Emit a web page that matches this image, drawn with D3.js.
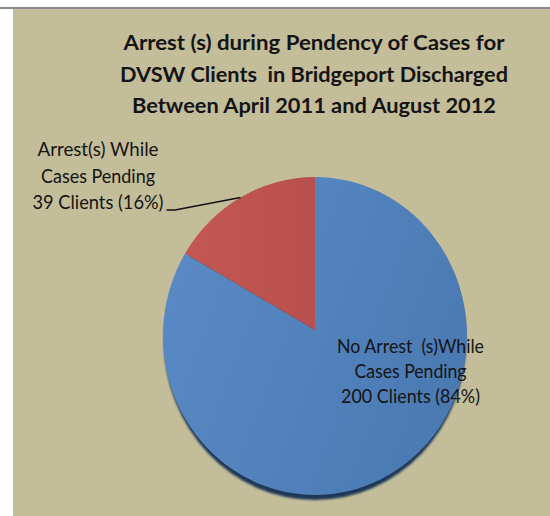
<!DOCTYPE html>
<html>
<head>
<meta charset="utf-8">
<script src="https://cdn.jsdelivr.net/npm/d3@7/dist/d3.min.js"></script>
<style>
  html, body { margin: 0; padding: 0; background: #ffffff; }
  svg { display: block; }
  text { font-family: Lato, "Open Sans", "Liberation Sans", sans-serif; fill: #141414; white-space: pre; }
</style>
</head>
<body>
<svg id="chart" width="550" height="516"></svg>
<script>
// Data
const categories = ["No Arrest  (s)While Cases Pending", "Arrest(s) While Cases Pending"];
const clients = [200, 39];
const percents = [84, 16];
const titleLines = [
  "Arrest (s) during Pendency of Cases for",
  "DVSW Clients  in Bridgeport Discharged",
  "Between April 2011 and August 2012"
];
const labelLines = [
  ["No Arrest  (s)While", "Cases Pending", "200 Clients (84%)"],
  ["Arrest(s) While", "Cases Pending", "39 Clients (16%)"]
];

const W = 550, H = 516;
const svg = d3.select("#chart");
const defs = svg.append("defs");

// Chart area
svg.append("rect").attr("x", 13).attr("y", 8).attr("width", W - 13).attr("height", H - 8)
  .attr("fill", "#c4bd99");
svg.append("line").attr("x1", 0).attr("x2", W).attr("y1", 8).attr("y2", 8)
  .attr("stroke", "#8a8a8a").attr("stroke-width", 2);

// Title
const title = svg.append("g").attr("font-weight", "bold").attr("font-size", 20.5)
  .attr("text-anchor", "middle");
const titleWidths = [381, 388, 364];
titleLines.forEach((t, i) => {
  title.append("text").attr("x", 314).attr("y", 50 + i * 31.5)
    .attr("textLength", titleWidths[i]).attr("lengthAdjust", "spacingAndGlyphs")
    .text(t);
});

// Pie geometry (slightly tilted, elliptical face)
const cx = 315, cy = 336, rx = 152, ry = 159, vx = 315, vy = 330;
const colors = ["url(#blueGrad)", "url(#redGrad)"];

const bg = defs.append("linearGradient").attr("id", "blueGrad")
  .attr("x1", "0%").attr("y1", "30%").attr("x2", "100%").attr("y2", "70%");
bg.append("stop").attr("offset", "0%").attr("stop-color", "#5a8ac5");
bg.append("stop").attr("offset", "100%").attr("stop-color", "#4a79b2");
const rg = defs.append("linearGradient").attr("id", "redGrad")
  .attr("x1", "0%").attr("y1", "0%").attr("x2", "100%").attr("y2", "0%");
rg.append("stop").attr("offset", "0%").attr("stop-color", "#c35753");
rg.append("stop").attr("offset", "100%").attr("stop-color", "#b9504d");
defs.append("filter").attr("id", "soft").append("feGaussianBlur").attr("stdDeviation", 0.8);

const pie = d3.pie().sort(null).startAngle(0).endAngle(2 * Math.PI);
const arcs = pie(clients);

// Point on the elliptical rim for a pie angle
const rim = a => [cx + rx * Math.sin(a), cy - ry * Math.cos(a)];

function slicePath(d) {
  const p0 = rim(d.startAngle), p1 = rim(d.endAngle);
  const large = (d.endAngle - d.startAngle) > Math.PI ? 1 : 0;
  return `M${vx},${vy}L${p0[0]},${p0[1]}A${rx},${ry} 0 ${large} 1 ${p1[0]},${p1[1]}Z`;
}

// Dark pie edge beneath the face
svg.append("ellipse").attr("cx", cx).attr("cy", cy + 5).attr("rx", rx - 1).attr("ry", ry)
  .attr("fill", "#1f3756").attr("filter", "url(#soft)");

svg.append("g").selectAll("path").data(arcs).join("path")
  .attr("d", slicePath)
  .attr("fill", (d, i) => colors[i]);

// Data labels
const labels = svg.append("g").attr("font-size", 18.5).attr("text-anchor", "middle");
const labelPos = [[410.5, 353, 25], [98, 156, 26.5]];
const labelWidths = [[147, 112, 139], [121, 114, 131]];
labelLines.forEach((lines, i) => {
  lines.forEach((t, j) => {
    labels.append("text").attr("x", labelPos[i][0]).attr("y", labelPos[i][1] + j * labelPos[i][2])
      .attr("textLength", labelWidths[i][j]).attr("lengthAdjust", "spacingAndGlyphs")
      .text(t);
  });
});

// Leader line for the small slice, meeting the rim at the slice's middle
const mid = (arcs[1].startAngle + arcs[1].endAngle) / 2;
const edge = rim(mid);
svg.append("path")
  .attr("d", `M166.5,210L175,210L${edge[0]},${edge[1]}`)
  .attr("fill", "none").attr("stroke", "#111").attr("stroke-width", 1.6);
</script>
</body>
</html>
